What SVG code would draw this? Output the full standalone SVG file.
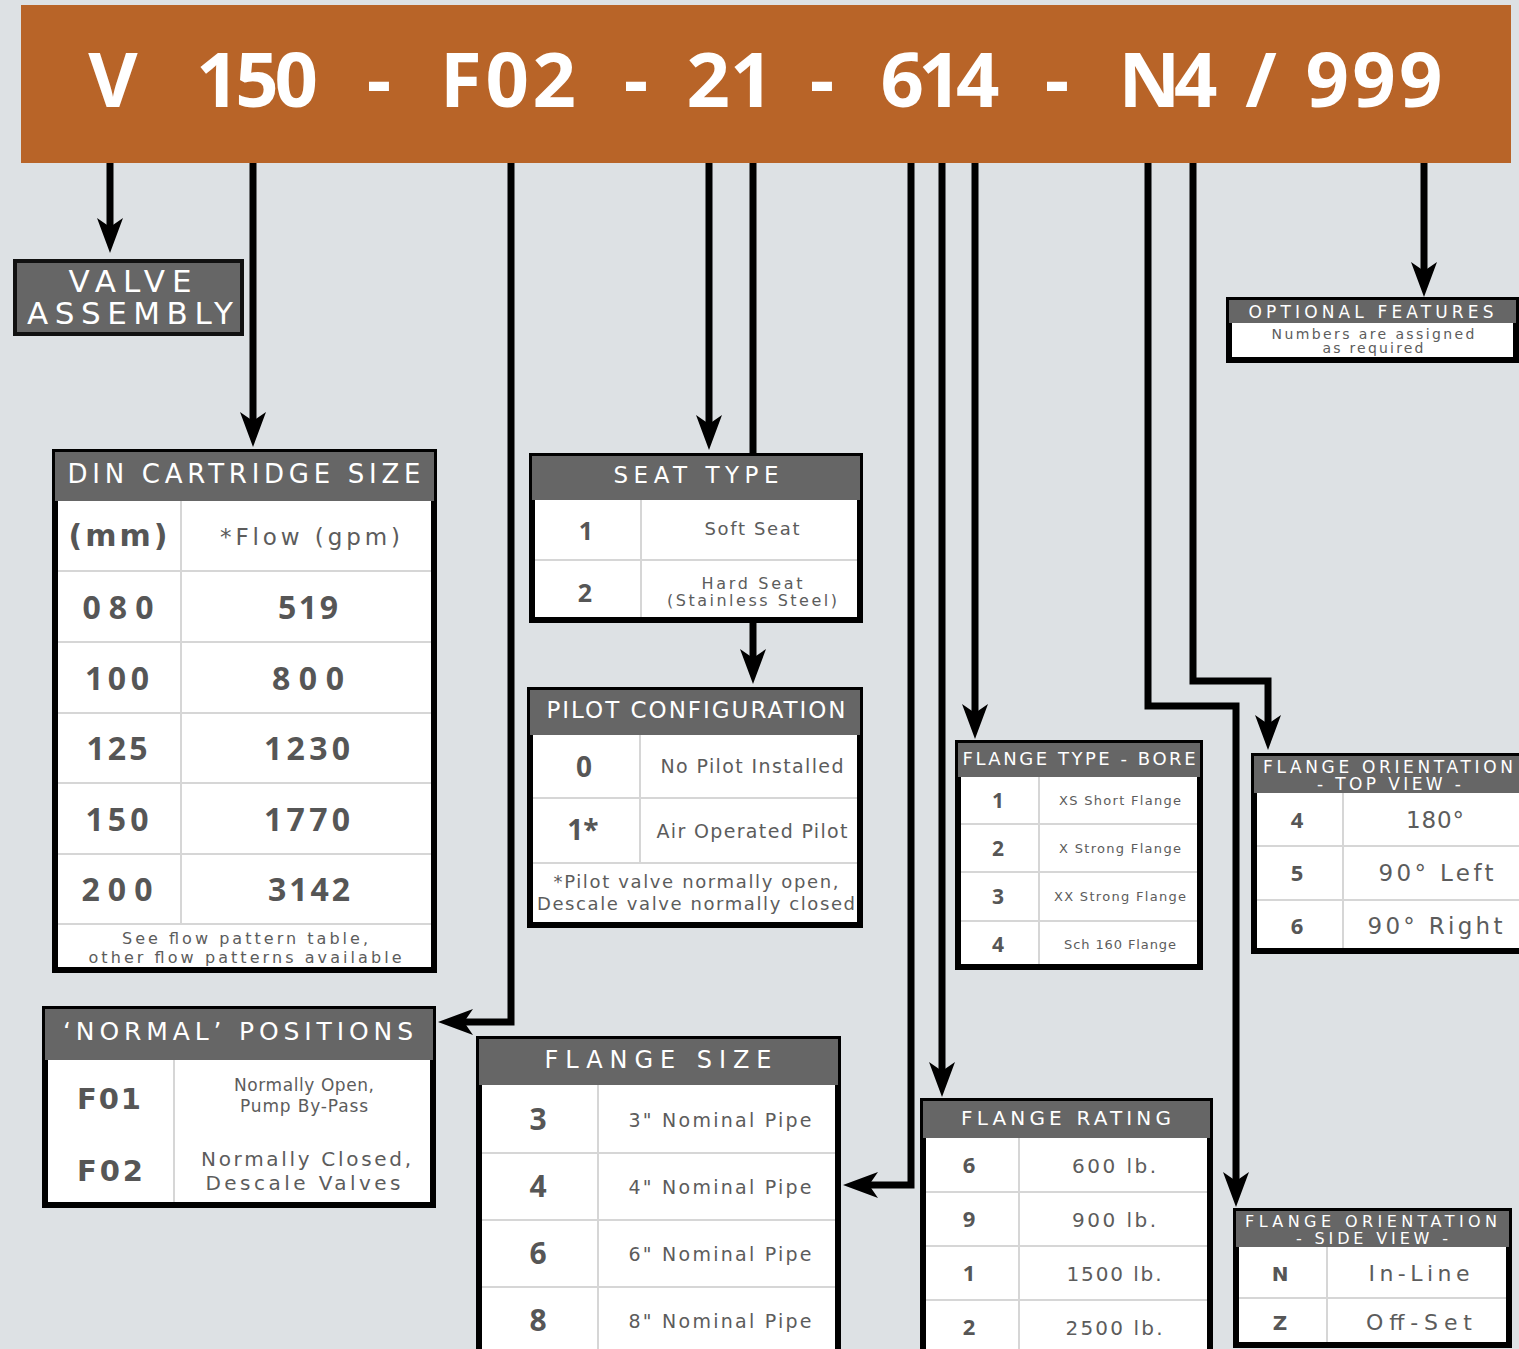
<svg xmlns="http://www.w3.org/2000/svg" width="1519" height="1349" viewBox="0 0 1519 1349">
<defs>
<style>
.bg{fill:#dde1e4}
.hdr{fill:#b86428}
.box{fill:#ffffff;stroke:#000;stroke-width:6}
.band{fill:#666666}
.rl{stroke:#d6d6d6;stroke-width:2;fill:none}
.va{fill:#666666;stroke:#111;stroke-width:4}
.con{fill:none;stroke:#000;stroke-width:7;stroke-linejoin:miter}
.arr{marker-end:url(#ah)}
text{font-family:"DejaVu Sans","Liberation Sans",sans-serif;text-anchor:middle}
.h{fill:#fff;font-family:"Open Sans","Liberation Sans",sans-serif;font-weight:700;font-size:76px}
.ti{fill:#fff;font-weight:400}
.n{fill:#565656;font-family:"Open Sans","Liberation Sans",sans-serif;font-weight:700}
.nb{fill:#565656;font-weight:700}
.d{fill:#5c5c5c;font-weight:400}
.ds{fill:#5c5c5c;font-weight:400}
</style>
<marker id="ah" markerUnits="userSpaceOnUse" markerWidth="36" markerHeight="28" viewBox="0 -14 36 28" refX="9" refY="0" orient="auto">
<path d="M0,-13 L35,0 L0,13 L9,0 Z" fill="#000"/>
</marker>
</defs>
<rect class="bg" x="0" y="0" width="1519" height="1349"/>

<g id="header">
<rect class="hdr" x="21" y="5" width="1490" height="158"/>
<text class="h" y="107"><tspan x="113">V</tspan><tspan x="257" textLength="122" lengthAdjust="spacing">150</tspan><tspan x="379">-</tspan><tspan x="508" textLength="136" lengthAdjust="spacing">F02</tspan><tspan x="636">-</tspan><tspan x="730">21</tspan><tspan x="822">-</tspan><tspan x="940" textLength="119" lengthAdjust="spacing">614</tspan><tspan x="1057">-</tspan><tspan x="1168" textLength="99" lengthAdjust="spacing">N4</tspan><tspan x="1261">/</tspan><tspan x="1374" textLength="137" lengthAdjust="spacing">999</tspan></text>
</g>

<g id="connectors">
<path class="con arr" d="M110,163 V227"/>
<path class="con arr" d="M253,163 V421"/>
<path class="con arr" d="M511,163 V1022 H464"/>
<path class="con arr" d="M709,163 V424"/>
<path class="con" d="M753,163 V456"/>
<path class="con arr" d="M753,620 V658"/>
<path class="con arr" d="M911,163 V1185 H869"/>
<path class="con arr" d="M942,163 V1071"/>
<path class="con arr" d="M975,163 V713"/>
<path class="con arr" d="M1148,163 V706 H1236 V1181"/>
<path class="con arr" d="M1193,163 V681 H1268 V724"/>
<path class="con arr" d="M1424,163 V271"/>
</g>

<g id="valve-assembly">
<rect class="va" x="15" y="261" width="227" height="73"/>
<text class="ti" x="130" y="292" font-size="31" textLength="123" lengthAdjust="spacing">VALVE</text>
<text class="ti" x="130" y="324" font-size="31" textLength="206" lengthAdjust="spacing">ASSEMBLY</text>
</g>

<g id="din-cartridge-size">
<rect class="box" x="55" y="452" width="379" height="518"/>
<rect class="band" x="55" y="452" width="379" height="49"/>
<path class="rl" d="M58,571 H431 M58,642 H431 M58,713 H431 M58,783 H431 M58,854 H431 M58,924 H431 M181,501 V924"/>
<text class="ti" x="244" y="483" font-size="26" textLength="353" lengthAdjust="spacing">DIN CARTRIDGE SIZE</text>
<text class="nb" x="118" y="546" font-size="30" textLength="99" lengthAdjust="spacing">(mm)</text>
<text class="d" x="310" y="545" font-size="23" textLength="180" lengthAdjust="spacing">*Flow (gpm)</text>
<g font-size="32">
<text class="n" x="118" y="619" textLength="71" lengthAdjust="spacing">080</text>
<text class="n" x="308" y="619" textLength="60" lengthAdjust="spacing">519</text>
<text class="n" x="117" y="690" textLength="64" lengthAdjust="spacing">100</text>
<text class="n" x="308" y="690" textLength="72" lengthAdjust="spacing">800</text>
<text class="n" x="117" y="760" textLength="61" lengthAdjust="spacing">125</text>
<text class="n" x="307" y="760" textLength="86" lengthAdjust="spacing">1230</text>
<text class="n" x="117" y="831" textLength="63" lengthAdjust="spacing">150</text>
<text class="n" x="307" y="831" textLength="86" lengthAdjust="spacing">1770</text>
<text class="n" x="117" y="901" textLength="71" lengthAdjust="spacing">200</text>
<text class="n" x="309" y="901" textLength="82" lengthAdjust="spacing">3142</text>
</g>
<text class="ds" x="245" y="944" font-size="16" textLength="246" lengthAdjust="spacing">See flow pattern table,</text>
<text class="ds" x="245" y="963" font-size="16" textLength="313" lengthAdjust="spacing">other flow patterns available</text>
</g>

<g id="seat-type">
<rect class="box" x="532" y="456" width="328" height="164"/>
<rect class="band" x="532" y="456" width="328" height="44"/>
<path class="rl" d="M535,560 H857 M641,500 V617"/>
<text class="ti" x="696" y="483" font-size="23" textLength="165" lengthAdjust="spacing">SEAT TYPE</text>
<text class="n" x="586" y="540" font-size="25">1</text>
<text class="ds" x="752" y="535" font-size="18" textLength="95" lengthAdjust="spacing">Soft Seat</text>
<text class="n" x="585" y="602" font-size="25">2</text>
<text class="ds" x="752" y="589" font-size="16" textLength="101" lengthAdjust="spacing">Hard Seat</text>
<text class="ds" x="752" y="606" font-size="16" textLength="170" lengthAdjust="spacing">(Stainless Steel)</text>
</g>

<g id="pilot-configuration">
<rect class="box" x="530" y="690" width="330" height="235"/>
<rect class="band" x="530" y="690" width="330" height="45"/>
<path class="rl" d="M533,798 H857 M533,863 H857 M640,735 V863"/>
<text class="ti" x="696" y="718" font-size="23" textLength="299" lengthAdjust="spacing">PILOT CONFIGURATION</text>
<text class="n" x="584" y="777" font-size="28">0</text>
<text class="ds" x="752" y="773" font-size="19" textLength="183" lengthAdjust="spacing">No Pilot Installed</text>
<text class="n" x="583" y="840" font-size="28">1*</text>
<text class="ds" x="752" y="838" font-size="19" textLength="191" lengthAdjust="spacing">Air Operated Pilot</text>
<text class="ds" x="696" y="888" font-size="18" textLength="285" lengthAdjust="spacing">*Pilot valve normally open,</text>
<text class="ds" x="696" y="910" font-size="18" textLength="318" lengthAdjust="spacing">Descale valve normally closed</text>
</g>

<g id="normal-positions">
<rect class="box" x="45" y="1009" width="388" height="196"/>
<rect class="band" x="45" y="1009" width="388" height="51"/>
<path class="rl" d="M174,1060 V1202"/>
<text class="ti" x="238" y="1040" font-size="25" textLength="350" lengthAdjust="spacing">‘NORMAL’ POSITIONS</text>
<text class="nb" x="109" y="1109" font-size="29" textLength="64" lengthAdjust="spacing">F01</text>
<text class="nb" x="110" y="1181" font-size="29" textLength="66" lengthAdjust="spacing">F02</text>
<text class="d" x="304" y="1091" font-size="17" textLength="140" lengthAdjust="spacing">Normally Open,</text>
<text class="d" x="304" y="1112" font-size="17" textLength="128" lengthAdjust="spacing">Pump By-Pass</text>
<text class="d" x="306" y="1166" font-size="20" textLength="210" lengthAdjust="spacing">Normally Closed,</text>
<text class="d" x="303" y="1190" font-size="20" textLength="195" lengthAdjust="spacing">Descale Valves</text>
</g>

<g id="flange-size">
<rect class="box" x="479" y="1039" width="359" height="330"/>
<rect class="band" x="479" y="1039" width="359" height="46"/>
<path class="rl" d="M482,1153 H835 M482,1220 H835 M482,1287 H835 M598,1085 V1349"/>
<text class="ti" x="658" y="1068" font-size="24" textLength="227" lengthAdjust="spacing">FLANGE SIZE</text>
<g font-size="30">
<text class="n" x="538" y="1130">3</text>
<text class="n" x="538" y="1197">4</text>
<text class="n" x="538" y="1264">6</text>
<text class="n" x="538" y="1331">8</text>
</g>
<g font-size="19">
<text class="ds" x="720" y="1127" textLength="183" lengthAdjust="spacing">3" Nominal Pipe</text>
<text class="ds" x="720" y="1194" textLength="183" lengthAdjust="spacing">4" Nominal Pipe</text>
<text class="ds" x="720" y="1261" textLength="183" lengthAdjust="spacing">6" Nominal Pipe</text>
<text class="ds" x="720" y="1328" textLength="183" lengthAdjust="spacing">8" Nominal Pipe</text>
</g>
</g>

<g id="flange-rating">
<rect class="box" x="923" y="1101" width="287" height="270"/>
<rect class="band" x="923" y="1101" width="287" height="37"/>
<path class="rl" d="M926,1192 H1207 M926,1246 H1207 M926,1300 H1207 M1019,1138 V1349"/>
<text class="ti" x="1066" y="1125" font-size="20" textLength="210" lengthAdjust="spacing">FLANGE RATING</text>
<g font-size="22">
<text class="n" x="969" y="1173">6</text>
<text class="n" x="969" y="1227">9</text>
<text class="n" x="969" y="1281">1</text>
<text class="n" x="969" y="1335">2</text>
</g>
<g font-size="20">
<text class="ds" x="1114" y="1173" textLength="84" lengthAdjust="spacing">600 lb.</text>
<text class="ds" x="1114" y="1227" textLength="84" lengthAdjust="spacing">900 lb.</text>
<text class="ds" x="1114" y="1281" textLength="95" lengthAdjust="spacing">1500 lb.</text>
<text class="ds" x="1114" y="1335" textLength="97" lengthAdjust="spacing">2500 lb.</text>
</g>
</g>

<g id="flange-type-bore">
<rect class="box" x="958" y="743" width="242" height="224"/>
<rect class="band" x="958" y="743" width="242" height="34"/>
<path class="rl" d="M961,824 H1197 M961,872 H1197 M961,921 H1197 M1039,777 V964"/>
<text class="ti" x="1079" y="765" font-size="18" textLength="233" lengthAdjust="spacing">FLANGE TYPE - BORE</text>
<g font-size="21">
<text class="n" x="998" y="808">1</text>
<text class="n" x="998" y="856">2</text>
<text class="n" x="998" y="904">3</text>
<text class="n" x="998" y="952">4</text>
</g>
<g font-size="13">
<text class="ds" x="1120" y="805" textLength="122" lengthAdjust="spacing">XS Short Flange</text>
<text class="ds" x="1120" y="853" textLength="122" lengthAdjust="spacing">X Strong Flange</text>
<text class="ds" x="1120" y="901" textLength="132" lengthAdjust="spacing">XX Strong Flange</text>
<text class="ds" x="1120" y="949" textLength="112" lengthAdjust="spacing">Sch 160 Flange</text>
</g>
</g>

<g id="flange-orientation-top">
<rect class="box" x="1254" y="756" width="272" height="195"/>
<rect class="band" x="1254" y="756" width="272" height="37"/>
<path class="rl" d="M1257,846 H1519 M1257,900 H1519 M1343,793 V948"/>
<text class="ti" x="1388" y="773" font-size="17" textLength="250" lengthAdjust="spacing">FLANGE ORIENTATION</text>
<text class="ti" x="1389" y="790" font-size="17" textLength="144" lengthAdjust="spacing">- TOP VIEW -</text>
<g font-size="22">
<text class="n" x="1297" y="828">4</text>
<text class="n" x="1297" y="881">5</text>
<text class="n" x="1297" y="934">6</text>
</g>
<g font-size="23">
<text class="d" x="1435" y="828" textLength="58" lengthAdjust="spacing">180°</text>
<text class="d" x="1436" y="881" textLength="115" lengthAdjust="spacing">90° Left</text>
<text class="d" x="1435" y="934" textLength="135" lengthAdjust="spacing">90° Right</text>
</g>
</g>

<g id="flange-orientation-side">
<rect class="box" x="1236" y="1211" width="273" height="134"/>
<rect class="band" x="1236" y="1211" width="273" height="36"/>
<path class="rl" d="M1239,1298 H1506 M1327,1247 V1342"/>
<text class="ti" x="1371" y="1227" font-size="16" textLength="252" lengthAdjust="spacing">FLANGE ORIENTATION</text>
<text class="ti" x="1372" y="1244" font-size="16" textLength="152" lengthAdjust="spacing">- SIDE VIEW -</text>
<text class="nb" x="1280" y="1281" font-size="20">N</text>
<text class="nb" x="1280" y="1330" font-size="20">Z</text>
<text class="d" x="1419" y="1281" font-size="22" textLength="101" lengthAdjust="spacing">In-Line</text>
<text class="d" x="1419" y="1330" font-size="22" textLength="106" lengthAdjust="spacing">Off-Set</text>
</g>

<g id="optional-features">
<rect class="box" x="1229" y="300" width="287" height="60"/>
<rect class="band" x="1229" y="300" width="287" height="23"/>
<text class="ti" x="1371" y="318" font-size="17" textLength="245" lengthAdjust="spacing">OPTIONAL FEATURES</text>
<text class="d" x="1373" y="339" font-size="14" textLength="203" lengthAdjust="spacing">Numbers are assigned</text>
<text class="d" x="1373" y="353" font-size="14" textLength="101" lengthAdjust="spacing">as required</text>
</g>
</svg>
